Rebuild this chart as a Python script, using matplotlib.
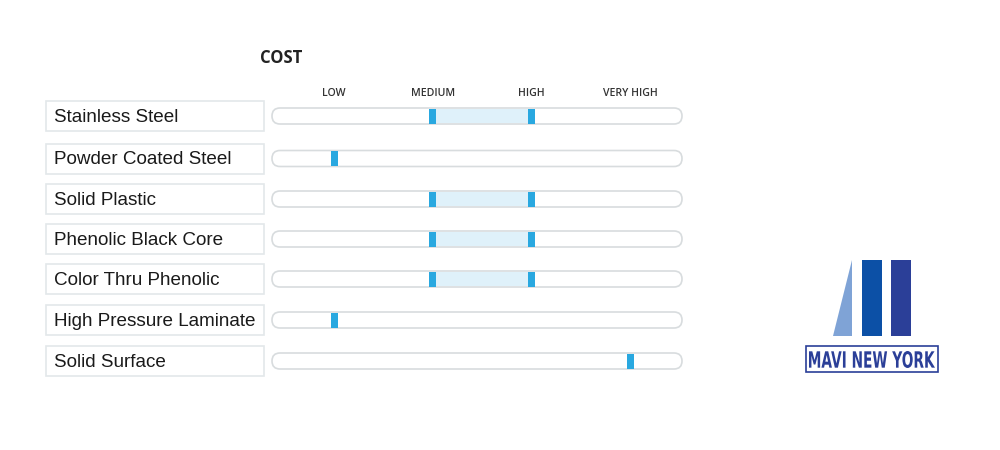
import numpy as np
import matplotlib
matplotlib.use("Agg")
import matplotlib.pyplot as plt
from matplotlib.patches import FancyBboxPatch, Rectangle, Polygon, PathPatch
from matplotlib.textpath import TextPath
from matplotlib.font_manager import FontProperties
from matplotlib.transforms import Affine2D

materials = ["Stainless Steel", "Powder Coated Steel", "Solid Plastic",
             "Phenolic Black Core", "Color Thru Phenolic",
             "High Pressure Laminate", "Solid Surface"]
levels = ["LOW", "MEDIUM", "HIGH", "VERY HIGH"]
cost_low = [1, 0, 1, 1, 1, 0, 3]
cost_high = [2, 0, 2, 2, 2, 0, 3]

# layout in pixels
row_y = [116, 158.5, 199, 239, 279, 320, 361]
x0, dx = 334, 98.8          # pixel of LOW and step per level
track_l, track_r, track_h = 272, 682, 16
box_l, box_r, box_h = 46, 264, 30

def xpos(v):
    return x0 + dx * v

fig = plt.figure(figsize=(10, 4.5), dpi=100)
ax = fig.add_axes([0, 0, 1, 1])
ax.set_xlim(0, 1000)
ax.set_ylim(450, 0)
ax.axis("off")

ax.text(260, 58, "COST", fontsize=12, fontweight="bold", family="Open Sans",
        ha="left", va="center", color="#222222")
for i, lab in enumerate(levels):
    ax.text(xpos(i), 93, lab, fontsize=7.6, fontweight="semibold", family="Open Sans",
            ha="center", va="center", color="#333333")

for name, y, lo, hi in zip(materials, row_y, cost_low, cost_high):
    ax.add_patch(Rectangle((box_l, y - box_h / 2), box_r - box_l, box_h,
                           fc="white", ec="#e3e8ea", lw=1.2))
    ax.text(box_l + 8, y + 6, name, fontsize=13.6, family="Liberation Sans",
            ha="left", va="baseline", color="#1a1a1a")
    ax.add_patch(FancyBboxPatch((track_l, y - track_h / 2), track_r - track_l, track_h,
                                boxstyle="round,pad=0,rounding_size=8",
                                fc="white", ec="#d8dcde", lw=1.2))
    if hi > lo:
        ax.add_patch(Rectangle((xpos(lo), y - track_h / 2 + 0.8), xpos(hi) - xpos(lo),
                               track_h - 1.6, fc="#dff1fa", ec="none"))
    for v in sorted(set([lo, hi])):
        ax.add_patch(Rectangle((xpos(v) - 3.5, y - track_h / 2 + 0.5), 7, track_h - 1,
                               fc="#29a8e0", ec="none"))

# logo
ax.add_patch(Polygon([(852, 260), (833, 336), (852, 336)], closed=True,
                     fc="#7fa3d6", ec="none"))
ax.add_patch(Rectangle((862, 260), 20, 76, fc="#0c50a6", ec="none"))
ax.add_patch(Rectangle((891, 260), 20, 76, fc="#2b3f98", ec="none"))
ax.add_patch(Rectangle((806, 346), 132, 26, fc="white", ec="#2b3f98", lw=1.2))
tp = TextPath((0, 0), "MAVI NEW YORK", size=20,
              prop=FontProperties(family="DejaVu Sans", weight="bold"))
bb = tp.get_extents()
sx = 126 / bb.width
sy = 17 / bb.height
tr = Affine2D().translate(-bb.x0, -bb.y0).scale(sx, -sy).translate(809, 368)
ax.add_patch(PathPatch(tr.transform_path(tp), fc="#2b3f98", ec="none"))

fig.savefig("out.png", dpi=100, facecolor="white")
